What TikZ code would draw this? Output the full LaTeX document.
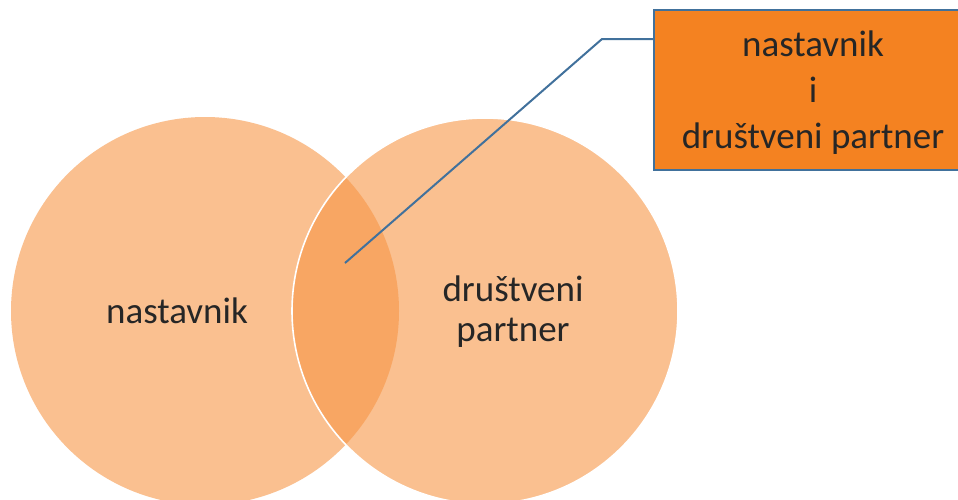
\documentclass[tikz,border=0pt]{standalone}
\usepackage{fontspec}
\setmainfont{Carlito}
\definecolor{vennfill}{HTML}{F79646}
\definecolor{boxfill}{HTML}{F48221}
\definecolor{linkblue}{HTML}{41719C}
\definecolor{txt}{HTML}{262626}
\tikzset{
  venn/.style={circle, fill=vennfill, fill opacity=0.6, minimum size=#1, inner sep=0pt},
  lbl/.style={text=txt, font=\fontsize{37}{40}\selectfont, align=center, inner sep=0pt},
  callout/.style={rectangle, fill=boxfill, draw=linkblue, line width=2pt, text=txt,
    font=\fontsize{37}{46}\selectfont, inner sep=0pt},
  link/.style={draw=linkblue, line width=2pt}
}
\begin{document}
\begin{tikzpicture}[x=1pt,y=-1pt]
\useasboundingbox (0,0) rectangle (958,499);
\clip (0,0) rectangle (958,499);
\fill[white] (0,0) rectangle (958,499);
\node[venn=388pt] (L) at (205,311) {};
\node[venn=386pt, draw=white, draw opacity=1, line width=1.6pt] (R) at (485,311) {};
\node[lbl, anchor=base] (tL) at (177,323) {nastavnik};
\node[lbl] (tR) at (513,312) {društveni\\partner};
\node[callout, minimum width=318pt, minimum height=160pt, anchor=north west] (box) at (653,9)
  {\begin{tabular}{@{}c@{}}\rule{0pt}{38pt}nastavnik\\i\\društveni partner\end{tabular}};
\coordinate (tip) at (345,263);
\coordinate (bend) at (602,39);
\draw[link] (tip) -- (bend) -- (box.west |- bend);
\end{tikzpicture}
\end{document}
